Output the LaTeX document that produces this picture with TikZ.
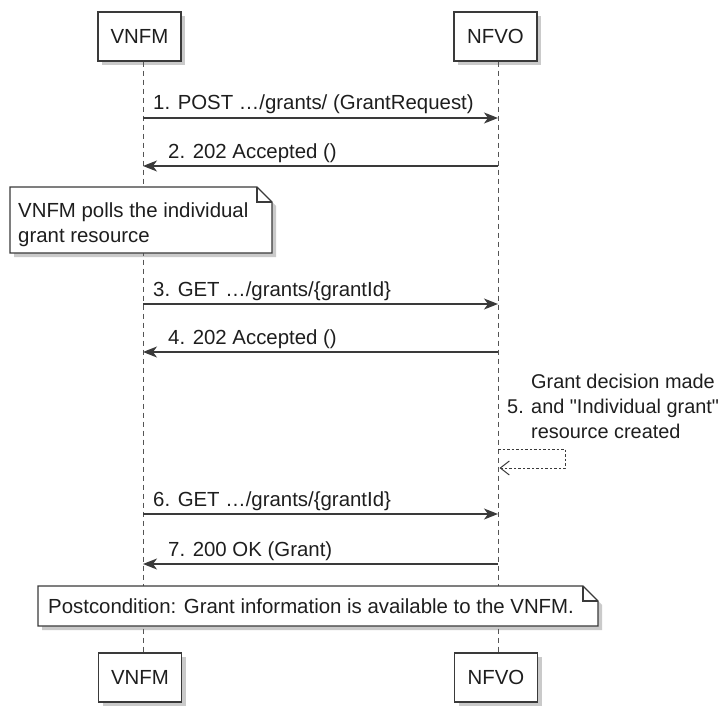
\documentclass[tikz,border=0pt]{standalone}
\usepackage{fontspec}
\setmainfont{Liberation Sans}[Ligatures=TeXOff]
\usetikzlibrary{arrows.meta,shadows,calc}
\definecolor{ln}{HTML}{3A3A3A}
\definecolor{lifeln}{HTML}{555555}
\definecolor{txt}{HTML}{1E1E1E}
\tikzset{
  shd/.style={drop shadow={shadow xshift=4bp, shadow yshift=-4bp, opacity=0.35, fill=black!60}},
  participant/.style={draw=ln, line width=1.3bp, fill=white, shd, minimum width=83bp, minimum height=49bp, inner sep=0pt, text=txt},
  lifeline/.style={draw=lifeln, line width=1bp, dash pattern=on 5bp off 4bp},
  msg/.style={draw=ln, line width=1.3bp, -{Stealth[length=14bp, width=11bp, inset=4bp]}},
  selfmsg/.style={draw=ln, line width=1bp, dash pattern=on 2.5bp off 2bp, -{Straight Barb[length=9bp, width=14bp]}},
  lbl/.style={anchor=base west, inner sep=0pt, text=txt},
  notebox/.style={draw=ln, line width=1.3bp, fill=white, shd},
  fold/.style={draw=ln, line width=1.1bp},
}
\begin{document}
\begin{tikzpicture}[x=1bp, y=-1bp, font=\fontsize{20.4bp}{25bp}\selectfont]
\useasboundingbox (0,0) rectangle (720,706);

% lifeline x positions
\coordinate (vl) at (143,0);
\coordinate (nl) at (498,0);

% participants
\node[participant] (vtop) at (139.5,36.5) {VNFM};
\node[participant] (ntop) at (495.5,36.5) {NFVO};
\node[participant] (vbot) at (140,677.5) {VNFM};
\node[participant] (nbot) at (496,677.5) {NFVO};

% lifelines
\draw[lifeline] (vl |- vtop.south) -- (vl |- vbot.north);
\draw[lifeline] (nl |- ntop.south) -- (nl |- nbot.north);

% message rows
\coordinate (m1) at (0,118);
\coordinate (m2) at (0,166);
\coordinate (m3) at (0,304);
\coordinate (m4) at (0,352);
\coordinate (m6) at (0,514);
\coordinate (m7) at (0,564);

\draw[msg] (vl |- m1) -- (nl |- m1);
\node[lbl] (l1) at (153,110) {1. POST …/grants/ (GrantRequest)};

\draw[msg] (nl |- m2) -- (vl |- m2);
\node[lbl] (l2) at (168,158) {2. 202 Accepted ()};

% note 1
\path[notebox] (10,187) -- (257,187) -- (272,202) -- (272,253) -- (10,253) -- cycle;
\draw[fold] (257,187) -- (257,202) -- (272,202);
\node[lbl] (n1a) at (18,217) {VNFM polls the individual};
\node[lbl] (n1b) at (18,242) {grant resource};

\draw[msg] (vl |- m3) -- (nl |- m3);
\node[lbl] (l3) at (153,296) {3. GET …/grants/\{grantId\}};

\draw[msg] (nl |- m4) -- (vl |- m4);
\node[lbl] (l4) at (168,344) {4. 202 Accepted ()};

% self message 5
\coordinate (s1) at (0,449);
\coordinate (s2) at (0,468);
\coordinate (sr) at (565,0);
\draw[selfmsg] (nl |- s1) -- (sr |- s1) -- (sr |- s2) -- ($(nl |- s2)+(1.5,0)$);
\begin{scope}[font=\fontsize{19.9bp}{25bp}\selectfont]
\node[lbl] (l5n) at (507,413) {5.};
\node[lbl] (l5a) at (531,388) {Grant decision made};
\node[lbl] (l5b) at (531,413) {and "Individual grant"};
\node[lbl] (l5c) at (531,438) {resource created};
\end{scope}

\draw[msg] (vl |- m6) -- (nl |- m6);
\node[lbl] (l6) at (153,506) {6. GET …/grants/\{grantId\}};

\draw[msg] (nl |- m7) -- (vl |- m7);
\node[lbl] (l7) at (168,556) {7. 200 OK (Grant)};

% postcondition note
\path[notebox] (38,586) -- (583,586) -- (598,601) -- (598,626) -- (38,626) -- cycle;
\draw[fold] (583,586) -- (583,601) -- (598,601);
\node[lbl] (post) at (48,613) {Postcondition: Grant information is available to the VNFM.};
\end{tikzpicture}
\end{document}
